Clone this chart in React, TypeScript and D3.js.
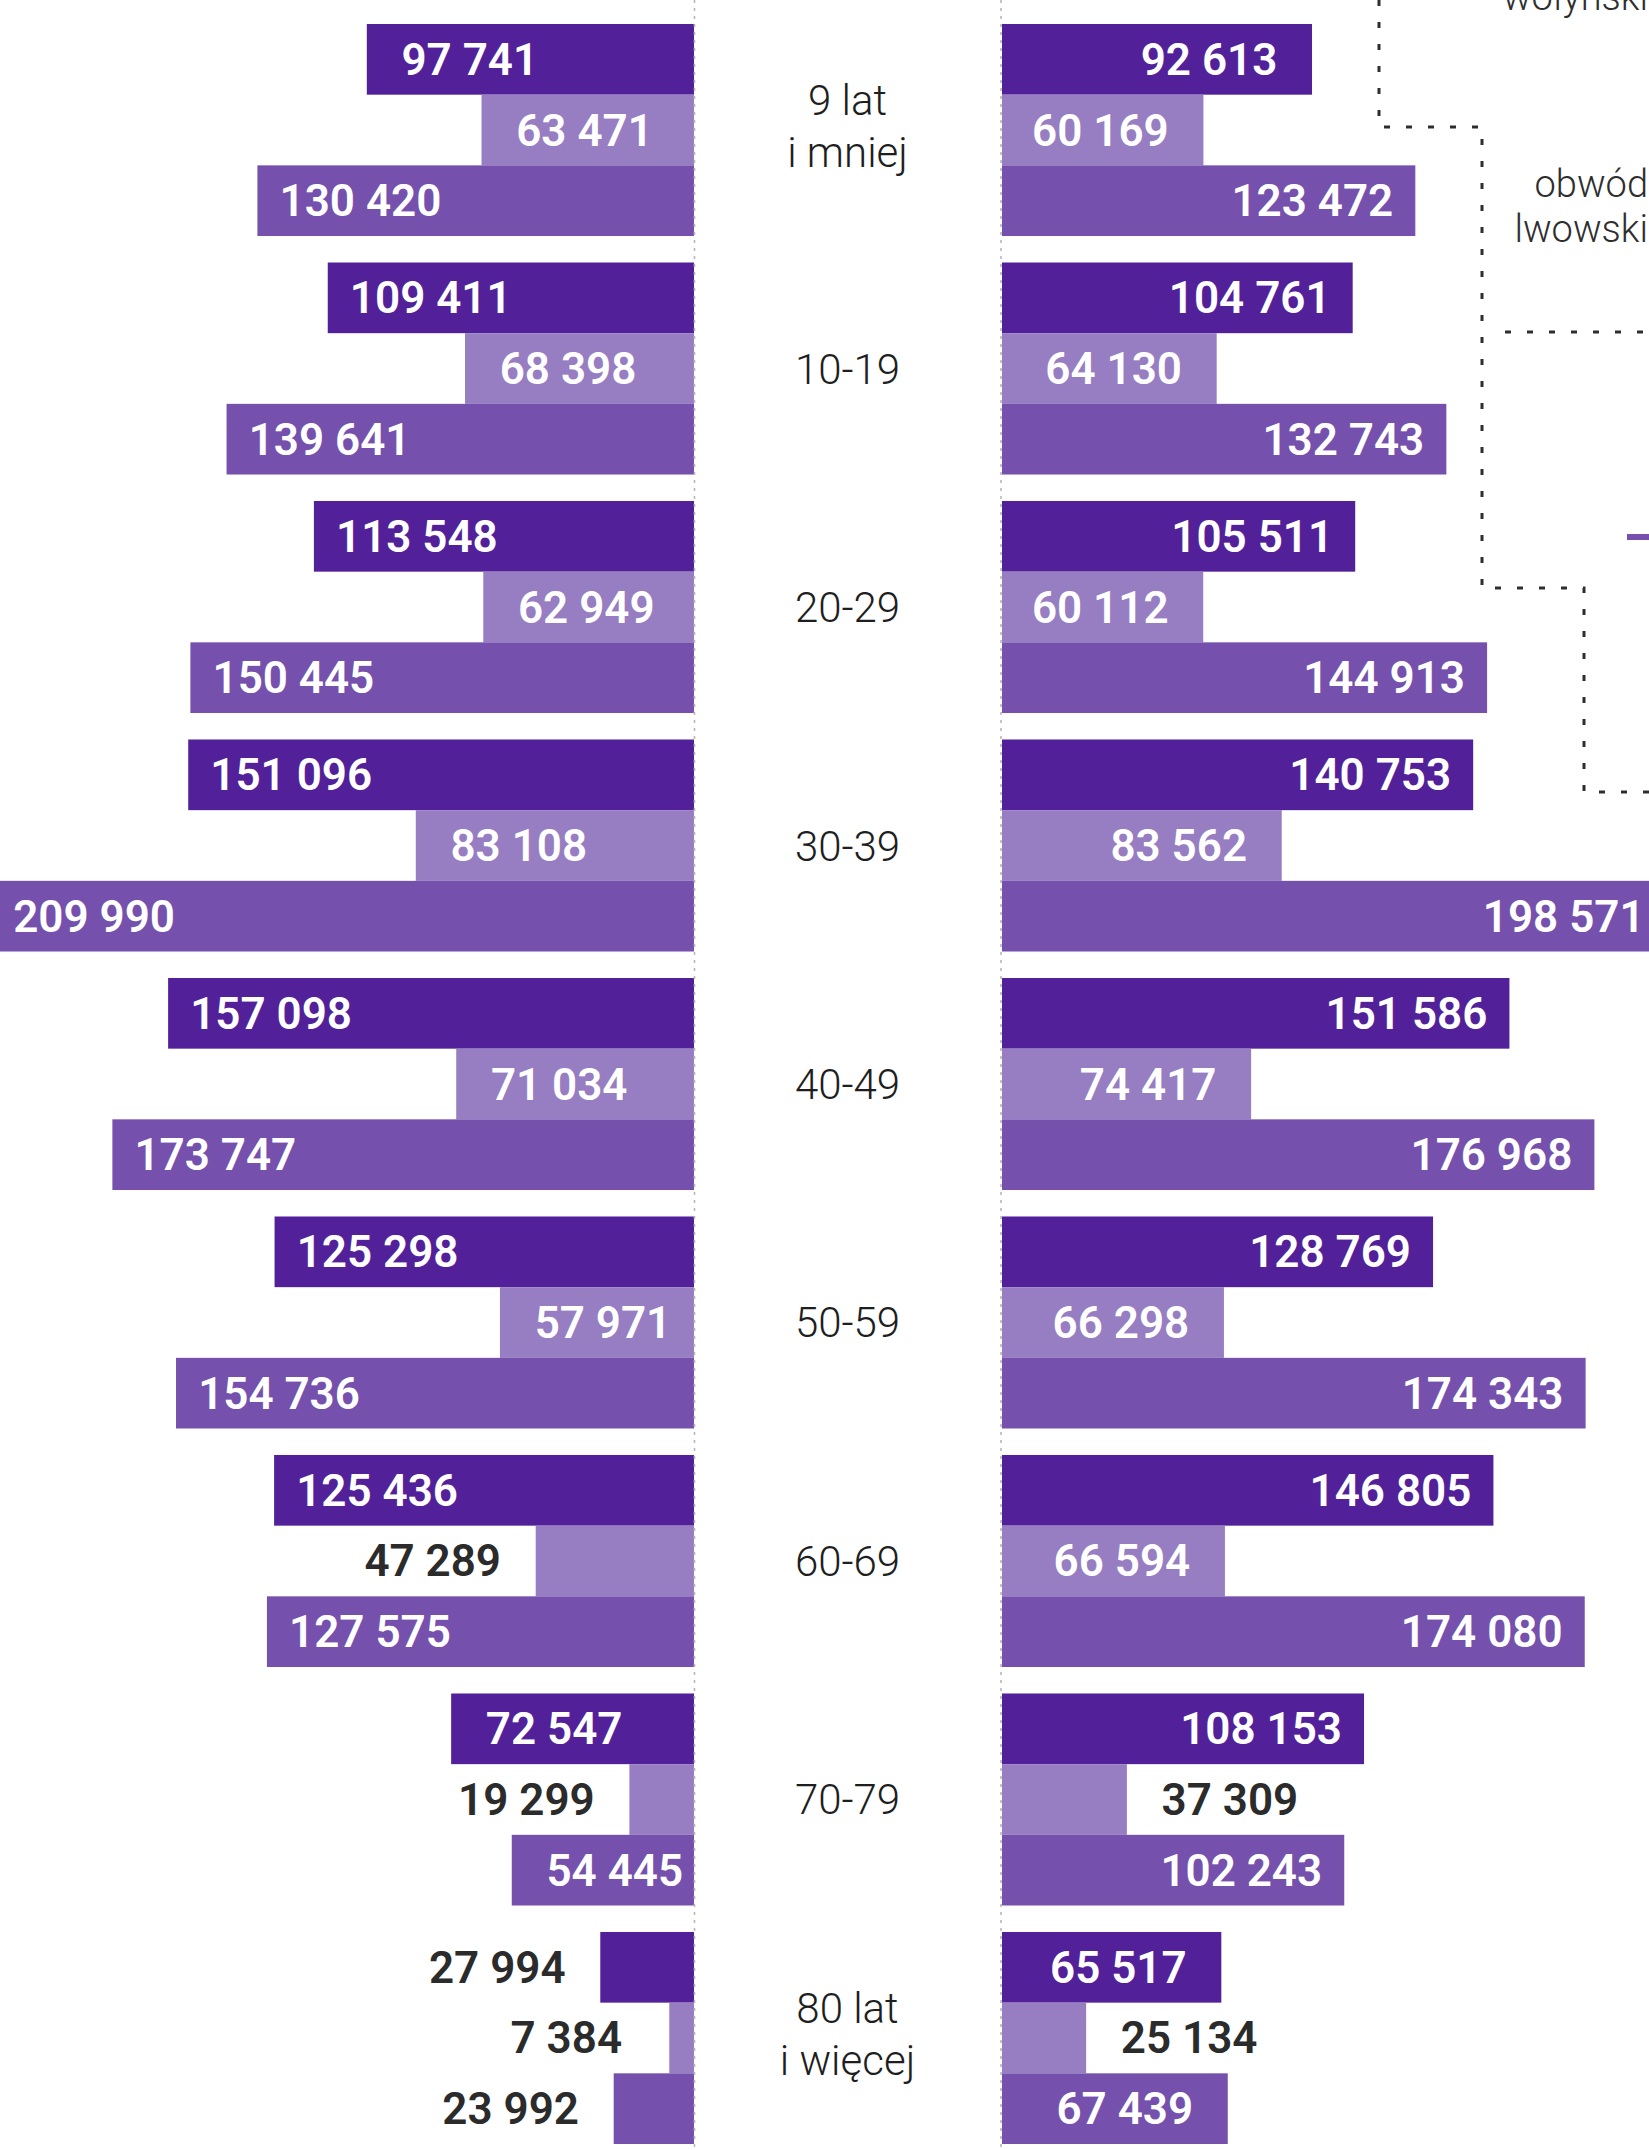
import React from 'react';
import * as d3 from 'd3';

// age groups, two-line labels split with "|"
const ageGroups = ['9 lat|i mniej', '10-19', '20-29', '30-39', '40-49', '50-59', '60-69', '70-79', '80 lat|i więcej'];

// three series per side (dark, light, medium)
const seriesKeys = ['dark', 'light', 'medium'];
const leftDark = [97741, 109411, 113548, 151096, 157098, 125298, 125436, 72547, 27994];
const leftLight = [63471, 68398, 62949, 83108, 71034, 57971, 47289, 19299, 7384];
const leftMedium = [130420, 139641, 150445, 209990, 173747, 154736, 127575, 54445, 23992];
const rightDark = [92613, 104761, 105511, 140753, 151586, 128769, 146805, 108153, 65517];
const rightLight = [60169, 64130, 60112, 83562, 74417, 66298, 66594, 37309, 25134];
const rightMedium = [123472, 132743, 144913, 198571, 176968, 174343, 174080, 102243, 67439];

// map fragment in the top right corner
const mapLabels = [
  { text: 'wołyński', y: 10 },
  { text: 'obwód', y: 197 },
  { text: 'lwowski', y: 242 },
];
const borderMain = [[1379, 0], [1379, 127], [1482, 127], [1482, 588], [1584, 588], [1584, 792], [1649, 792]];
const borderSide = [[1505, 332], [1649, 332]];
const riverMark = [[1627, 537], [1649, 537]];

const COLORS = { dark: '#52219A', light: '#977DC1', medium: '#7551AD' };

const W = 1649;
const H = 2150;
const axisL = 694;
const axisR = 1001;
const centerX = (axisL + axisR) / 2;
const LABEL_OFFSET = 103; // label centre distance from the bar's outer end
const MIN_INSIDE = 170;

const fmt = d3.formatLocale({ decimal: ',', thousands: ' ', grouping: [3], currency: ['', ''] }).format(',d');

const App = () => {
  const x = d3.scaleLinear().domain([0, 200000]).range([0, 669.5]);
  const y = d3.scaleBand().domain(ageGroups).range([24, 2144]).paddingInner(0.111);
  const ySub = d3.scaleBand().domain(seriesKeys).range([0, y.bandwidth()]);
  const line = d3.line();

  const left = { dark: leftDark, light: leftLight, medium: leftMedium };
  const right = { dark: rightDark, light: rightLight, medium: rightMedium };

  const valueFont = { fontFamily: 'Roboto, sans-serif', fontWeight: 600, fontSize: 44 };

  const bars = [];
  ageGroups.forEach((g, i) => {
    seriesKeys.forEach((k) => {
      const top = y(g) + ySub(k);
      const h = ySub.bandwidth();
      const cy = top + h / 2 + 15.5;

      // left side, grows to the left from the axis
      const vl = left[k][i];
      const wl = x(vl);
      const xl = axisL - wl;
      const inL = wl >= MIN_INSIDE;
      bars.push(
        <g key={`l-${i}-${k}`}>
          <rect x={xl} y={top} width={wl} height={h} fill={COLORS[k]} />
          <text
            x={inL ? xl + LABEL_OFFSET : xl - LABEL_OFFSET}
            y={cy}
            textAnchor="middle"
            fill={inL ? '#fff' : '#2b2b2b'}
            style={valueFont}
          >
            {fmt(vl)}
          </text>
        </g>
      );

      // right side, grows to the right
      const vr = right[k][i];
      const wr = x(vr);
      const xr = axisR + 1;
      const inR = wr >= MIN_INSIDE;
      bars.push(
        <g key={`r-${i}-${k}`}>
          <rect x={xr} y={top} width={wr} height={h} fill={COLORS[k]} />
          <text
            x={inR ? xr + wr - LABEL_OFFSET : xr + wr + LABEL_OFFSET}
            y={cy}
            textAnchor="middle"
            fill={inR ? '#fff' : '#2b2b2b'}
            style={valueFont}
          >
            {fmt(vr)}
          </text>
        </g>
      );
    });
  });

  const catFont = { fontFamily: 'Roboto, sans-serif', fontWeight: 300, fontSize: 42 };

  return (
    <svg
      width={W}
      height={H}
      viewBox={`0 0 ${W} ${H}`}
      style={{ position: 'absolute', left: 0, top: 0, display: 'block', background: '#fff' }}
    >
      <rect x={0} y={0} width={W} height={H} fill="#fff" />

      {bars}

      {/* dotted axis lines */}
      {[axisL + 0.5, axisR].map((ax) => (
        <line key={ax} x1={ax} x2={ax} y1={0} y2={H} stroke="#b8b8b8" strokeWidth={1.6} strokeDasharray="3 5" />
      ))}

      {/* age group labels */}
      {ageGroups.map((g) => {
        const c = y(g) + y.bandwidth() / 2;
        const lines = g.split('|');
        return (
          <text key={g} x={centerX} textAnchor="middle" fill="#1e1e1e" style={catFont}>
            {lines.length === 1 ? (
              <tspan x={centerX} y={c + 15}>{lines[0]}</tspan>
            ) : (
              lines.map((t, j) => (
                <tspan key={j} x={centerX} y={c - 15 + j * 52}>{t}</tspan>
              ))
            )}
          </text>
        );
      })}

      {/* map fragment (cut by the frame, as in the source) */}
      <path d={line(borderMain)} fill="none" stroke="#2e2e2e" strokeWidth={3} strokeDasharray="6 16" />
      <path d={line(borderSide)} fill="none" stroke="#2e2e2e" strokeWidth={3} strokeDasharray="6 16" />
      <path d={line(riverMark)} fill="none" stroke={COLORS.medium} strokeWidth={6} />
      {mapLabels.map((m) => (
        <text
          key={m.text}
          x={W - 1}
          y={m.y}
          textAnchor="end"
          fill="#2e2e2e"
          style={{ fontFamily: 'Roboto, sans-serif', fontWeight: 300, fontSize: 38 }}
        >
          {m.text}
        </text>
      ))}
    </svg>
  );
};

export default App;
